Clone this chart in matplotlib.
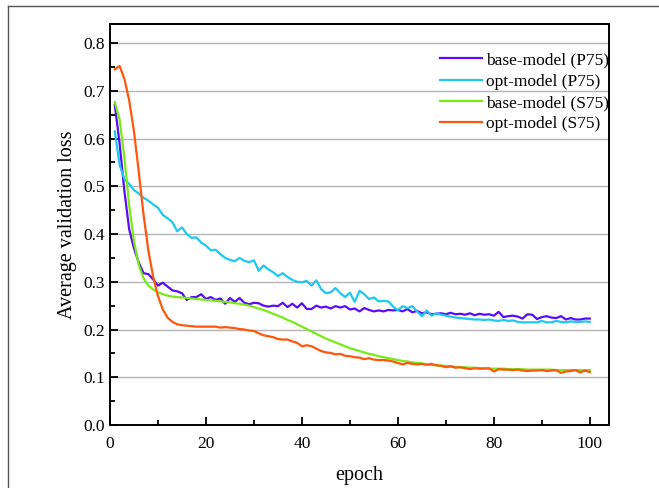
import numpy as np
import matplotlib
matplotlib.use("Agg")
import matplotlib.pyplot as plt
from matplotlib.lines import Line2D
from matplotlib.ticker import MultipleLocator, FormatStrFormatter

epochs = np.arange(1, 101)

base_p75 = [
    0.670, 0.590, 0.490, 0.410, 0.370, 0.340, 0.318, 0.316, 0.305, 0.292,
    0.298, 0.290, 0.282, 0.280, 0.276, 0.262, 0.268, 0.268, 0.274, 0.264,
    0.268, 0.262, 0.265, 0.254, 0.266, 0.258, 0.266, 0.256, 0.253, 0.256,
    0.255, 0.250, 0.248, 0.250, 0.249, 0.256, 0.247, 0.254, 0.246, 0.255,
    0.243, 0.243, 0.250, 0.246, 0.248, 0.244, 0.249, 0.246, 0.249, 0.242,
    0.244, 0.238, 0.245, 0.241, 0.238, 0.240, 0.238, 0.241, 0.240, 0.241,
    0.238, 0.243, 0.236, 0.239, 0.234, 0.236, 0.232, 0.233, 0.234, 0.232,
    0.235, 0.232, 0.233, 0.231, 0.234, 0.230, 0.233, 0.231, 0.232, 0.229,
    0.237, 0.226, 0.228, 0.229, 0.227, 0.223, 0.232, 0.231, 0.222, 0.226,
    0.228, 0.225, 0.224, 0.228, 0.221, 0.224, 0.221, 0.221, 0.223, 0.223,
]
opt_p75 = [
    0.615, 0.545, 0.515, 0.505, 0.492, 0.485, 0.476, 0.470, 0.462, 0.455,
    0.440, 0.433, 0.425, 0.406, 0.414, 0.400, 0.392, 0.393, 0.382, 0.376,
    0.366, 0.367, 0.358, 0.350, 0.346, 0.343, 0.350, 0.344, 0.341, 0.345,
    0.323, 0.334, 0.326, 0.320, 0.312, 0.318, 0.310, 0.304, 0.300, 0.299,
    0.302, 0.292, 0.303, 0.285, 0.276, 0.278, 0.287, 0.276, 0.268, 0.277,
    0.258, 0.281, 0.274, 0.264, 0.267, 0.259, 0.260, 0.259, 0.248, 0.240,
    0.249, 0.245, 0.249, 0.238, 0.228, 0.240, 0.229, 0.234, 0.231, 0.229,
    0.227, 0.225, 0.224, 0.223, 0.222, 0.221, 0.221, 0.220, 0.221, 0.219,
    0.218, 0.220, 0.218, 0.219, 0.216, 0.215, 0.215, 0.215, 0.215, 0.218,
    0.215, 0.215, 0.218, 0.216, 0.215, 0.217, 0.216, 0.216, 0.217, 0.216,
]
base_s75 = [
    0.676, 0.640, 0.560, 0.460, 0.385, 0.335, 0.307, 0.292, 0.284, 0.278,
    0.274, 0.271, 0.269, 0.268, 0.267, 0.266, 0.265, 0.264, 0.263, 0.262,
    0.261, 0.260, 0.259, 0.258, 0.257, 0.255, 0.254, 0.252, 0.250, 0.247,
    0.244, 0.241, 0.237, 0.233, 0.229, 0.225, 0.220, 0.216, 0.211, 0.206,
    0.201, 0.196, 0.191, 0.186, 0.181, 0.177, 0.173, 0.169, 0.165, 0.161,
    0.158, 0.155, 0.152, 0.149, 0.147, 0.144, 0.142, 0.140, 0.138, 0.136,
    0.134, 0.133, 0.131, 0.130, 0.129, 0.127, 0.126, 0.125, 0.124, 0.124,
    0.123, 0.122, 0.121, 0.121, 0.120, 0.120, 0.119, 0.119, 0.118, 0.118,
    0.118, 0.118, 0.117, 0.117, 0.117, 0.117, 0.116, 0.116, 0.116, 0.116,
    0.116, 0.116, 0.115, 0.115, 0.115, 0.115, 0.115, 0.115, 0.115, 0.115,
]
opt_s75 = [
    0.745, 0.752, 0.725, 0.680, 0.615, 0.530, 0.440, 0.365, 0.310, 0.270,
    0.242, 0.225, 0.216, 0.211, 0.209, 0.208, 0.207, 0.206, 0.206, 0.206,
    0.206, 0.206, 0.204, 0.205, 0.204, 0.203, 0.201, 0.200, 0.198, 0.197,
    0.192, 0.188, 0.186, 0.184, 0.180, 0.179, 0.179, 0.175, 0.172, 0.165,
    0.167, 0.165, 0.160, 0.155, 0.152, 0.151, 0.148, 0.149, 0.145, 0.144,
    0.142, 0.141, 0.138, 0.140, 0.137, 0.136, 0.136, 0.135, 0.133, 0.130,
    0.127, 0.130, 0.128, 0.127, 0.128, 0.126, 0.128, 0.125, 0.124, 0.121,
    0.123, 0.120, 0.121, 0.119, 0.117, 0.119, 0.118, 0.118, 0.119, 0.112,
    0.117, 0.116, 0.116, 0.115, 0.116, 0.114, 0.113, 0.114, 0.114, 0.115,
    0.113, 0.114, 0.115, 0.109, 0.112, 0.113, 0.115, 0.110, 0.114, 0.111,
]

series = [
    ("base-model (P75)", base_p75, "#5a0cf7"),
    ("opt-model (P75)", opt_p75, "#1ec8f0"),
    ("base-model (S75)", base_s75, "#78ea16"),
    ("opt-model (S75)", opt_s75, "#ff560c"),
]

plt.rcParams["font.family"] = ["Liberation Serif", "DejaVu Serif"]

fig = plt.figure(figsize=(6.59, 4.88), dpi=100)
ax = fig.add_axes([110 / 659, 1 - 425 / 488, 499 / 659, 401 / 488])

for lab, vals, c in series:
    ax.plot(epochs, vals, color=c, lw=1.6, label=lab)

ax.set_xlim(0, 104)
ax.set_ylim(0, 0.84)
ax.xaxis.set_major_locator(MultipleLocator(20))
ax.xaxis.set_minor_locator(MultipleLocator(10))
ax.yaxis.set_major_locator(MultipleLocator(0.1))
ax.yaxis.set_minor_locator(MultipleLocator(0.05))
ax.yaxis.set_major_formatter(FormatStrFormatter("%.1f"))
ax.tick_params(which="both", direction="in", top=False, right=False,
               labelsize=12.5, width=1.3)
ax.tick_params(which="major", length=6)
ax.tick_params(which="minor", length=3.5)
ax.tick_params(axis="x", pad=8)
ax.grid(axis="y", which="major", color="#b4b4b4", lw=1)
ax.set_axisbelow(True)
for s in ax.spines.values():
    s.set_linewidth(1.4)

ax.set_xlabel("epoch", fontsize=14.5, labelpad=10)
ax.set_ylabel("Average validation loss", fontsize=14.5, labelpad=4.5)

ax.legend(loc="upper right", bbox_to_anchor=(1.0, 0.93), frameon=False,
          fontsize=12.5, handlelength=2.4, handletextpad=0.25,
          labelspacing=0.3, borderaxespad=0, borderpad=0)

# outer frame (only top and left edges visible in the crop)
fig.add_artist(Line2D([8 / 659, 1], [1 - 6 / 488, 1 - 6 / 488],
                      color="#555555", lw=1, transform=fig.transFigure))
fig.add_artist(Line2D([8 / 659, 8 / 659], [0, 1 - 6 / 488],
                      color="#555555", lw=1, transform=fig.transFigure))

fig.savefig("out.png", dpi=100)
